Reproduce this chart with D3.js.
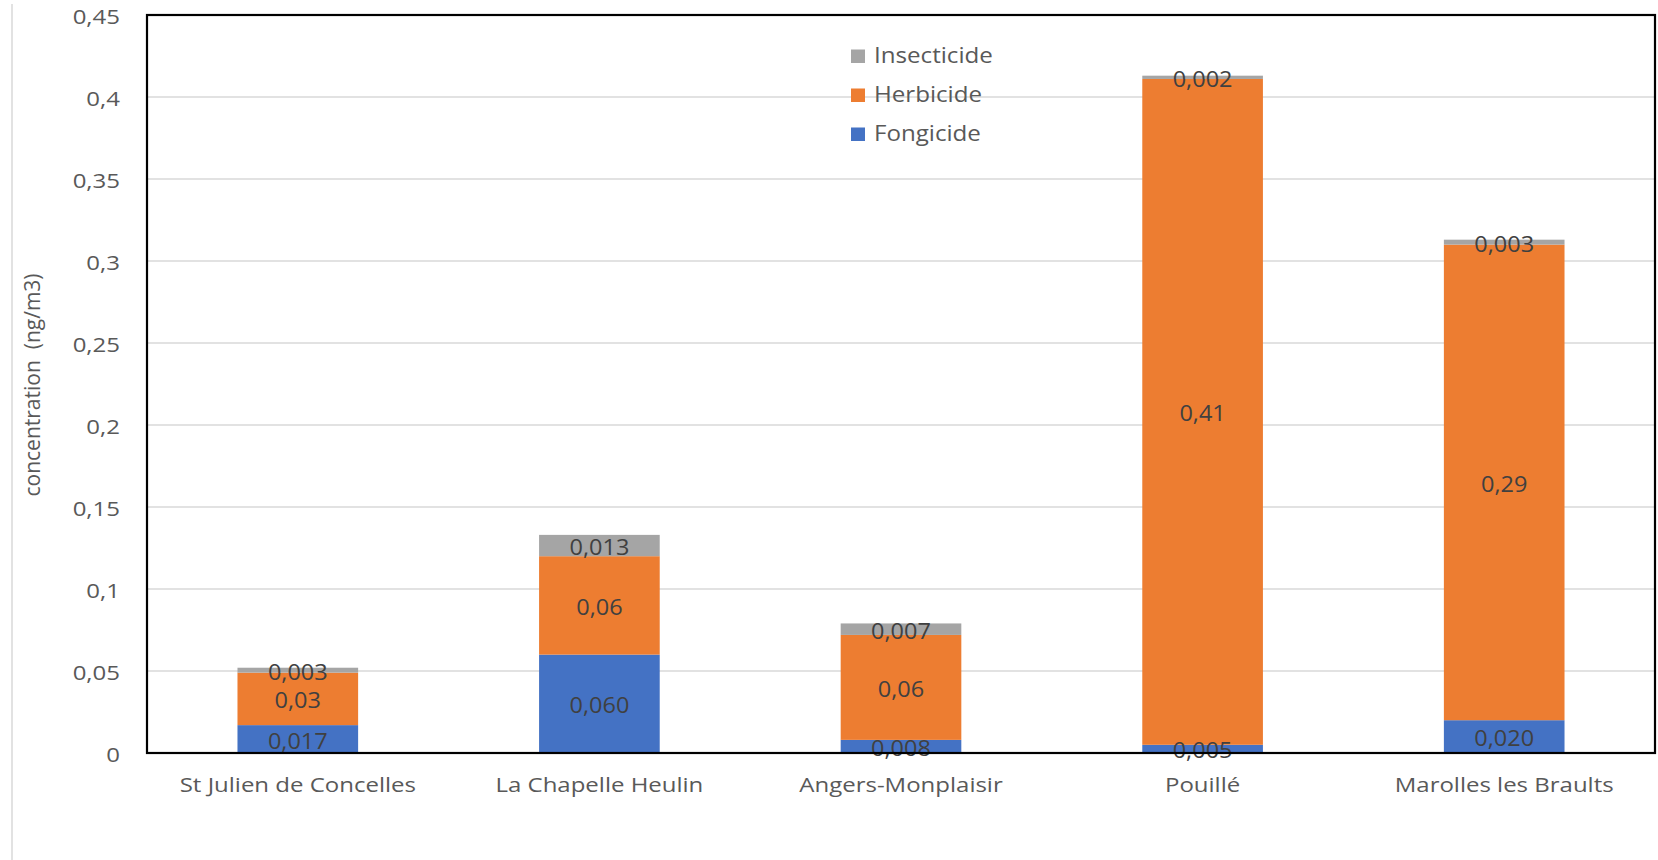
<!DOCTYPE html>
<html>
<head>
<meta charset="utf-8">
<script src="https://cdn.jsdelivr.net/npm/d3@7"></script>
<style>
  html, body { margin: 0; padding: 0; background: #ffffff; }
  svg { display: block; font-family: "Open Sans", "Noto Sans", sans-serif; }
  .keep-spaces { white-space: pre; }
</style>
</head>
<body>
<svg id="chart" width="1658" height="860"></svg>
<script>
// Sampling sites (x categories)
const categories = [
  "St Julien de Concelles",
  "La Chapelle Heulin",
  "Angers-Monplaisir",
  "Pouillé",
  "Marolles les Braults"
];

// Concentrations per pesticide family (ng/m3)
const fongicide   = [0.017, 0.060, 0.008, 0.005, 0.020];
const herbicide   = [0.032, 0.060, 0.064, 0.406, 0.290];
const insecticide = [0.003, 0.013, 0.007, 0.002, 0.003];

// Series, bottom to top of each stack
const seriesNames = ["Fongicide", "Herbicide", "Insecticide"];
const seriesColors = ["#4472C4", "#ED7D31", "#A5A5A5"];
const seriesFormats = [".3f", ".2f", ".3f"];

// Value axis ticks
const yTicks = [0, 0.05, 0.1, 0.15, 0.2, 0.25, 0.3, 0.35, 0.4, 0.45];

const yTitle = "concentration  (ng/m3)";

// French number formatting (decimal comma)
const fr = d3.formatLocale({ decimal: ",", thousands: " ", grouping: [3], currency: ["", " €"] });

const svg = d3.select("#chart");
const plot = { left: 147, right: 1655, top: 15, bottom: 753 };

const x = d3.scaleBand()
  .domain(categories)
  .range([plot.left, plot.right])
  .paddingInner(0.6)
  .paddingOuter(0.3);

const y = d3.scaleLinear()
  .domain([0, 0.45])
  .range([plot.bottom, plot.top]);

// Table for the stack layout
const rows = categories.map((c, i) => ({
  site: c,
  Fongicide: fongicide[i],
  Herbicide: herbicide[i],
  Insecticide: insecticide[i]
}));
const stacked = d3.stack().keys(seriesNames)(rows);

// Thin vertical rule along the left edge
svg.append("line")
  .attr("x1", 12).attr("x2", 12)
  .attr("y1", 4).attr("y2", 860)
  .attr("stroke", "#d9d9d9")
  .attr("stroke-width", 1.5);

// Horizontal gridlines
svg.append("g")
  .selectAll("line")
  .data(yTicks.slice(1, -1))
  .join("line")
  .attr("x1", plot.left).attr("x2", plot.right)
  .attr("y1", d => y(d)).attr("y2", d => y(d))
  .attr("stroke", "#d9d9d9")
  .attr("stroke-width", 1.6);

// Stacked bars
const layers = svg.append("g")
  .selectAll("g")
  .data(stacked)
  .join("g")
  .attr("fill", (d, i) => seriesColors[i]);

layers.selectAll("rect")
  .data(d => d)
  .join("rect")
  .attr("x", d => x(d.data.site))
  .attr("width", x.bandwidth())
  .attr("y", d => y(d[1]))
  .attr("height", d => y(d[0]) - y(d[1]));

// Segment value labels, centred in each segment
const labelGroups = svg.append("g")
  .selectAll("g")
  .data(stacked)
  .join("g");

labelGroups.selectAll("text")
  .data((s, i) => s.map(d => ({ d, fmt: fr.format(seriesFormats[i]), key: s.key })))
  .join("text")
  .attr("transform", o => {
    const cx = x(o.d.data.site) + x.bandwidth() / 2;
    const cy = (y(o.d[0]) + y(o.d[1])) / 2;
    return `translate(${cx},${cy}) scale(1.12,1)`;
  })
  .attr("text-anchor", "middle")
  .attr("dy", "0.45em")
  .attr("font-size", 21)
  .attr("fill", "#404040")
  .text(o => o.fmt(o.d.data[o.key]));

// Y axis tick labels
const yAxis = svg.append("g")
  .attr("transform", `translate(${plot.left},0)`)
  .call(d3.axisLeft(y)
    .tickValues(yTicks)
    .tickSize(0)
    .tickPadding(27)
    .tickFormat(fr.format("~g")));
yAxis.select(".domain").remove();
yAxis.selectAll("text")
  .attr("x", null)
  .attr("dy", "0.4em")
  .attr("transform", "translate(-27,0) scale(1.2,1)")
  .attr("font-size", 20)
  .attr("font-family", "Open Sans")
  .attr("fill", "#595959");

// X axis category labels
const xAxis = svg.append("g")
  .attr("transform", `translate(0,${plot.bottom})`)
  .call(d3.axisBottom(x).tickSize(0));
xAxis.select(".domain").remove();
xAxis.selectAll("text")
  .attr("y", null)
  .attr("dy", null)
  .attr("transform", "translate(0,39) scale(1.2,1)")
  .attr("font-size", 20)
  .attr("font-family", "Open Sans")
  .attr("fill", "#595959");

// Plot area frame
svg.append("rect")
  .attr("x", plot.left).attr("y", plot.top)
  .attr("width", plot.right - plot.left)
  .attr("height", plot.bottom - plot.top)
  .attr("fill", "none")
  .attr("stroke", "#000000")
  .attr("stroke-width", 2.2);

// Y axis title
svg.append("text")
  .attr("class", "keep-spaces")
  .attr("transform", "translate(40,385) rotate(-90)")
  .attr("text-anchor", "middle")
  .attr("font-size", 21)
  .attr("fill", "#595959")
  .text(yTitle);

// Legend (top of stack listed first)
const legendItems = seriesNames.map((n, i) => ({ name: n, color: seriesColors[i] })).reverse();
const legend = svg.append("g").attr("transform", "translate(851,63)");
const li = legend.selectAll("g")
  .data(legendItems)
  .join("g")
  .attr("transform", (d, i) => `translate(0,${i * 39})`);
li.append("rect")
  .attr("x", 0).attr("y", -13.5)
  .attr("width", 14).attr("height", 13.5)
  .attr("fill", d => d.color);
li.append("text")
  .attr("transform", "translate(23,0) scale(1.15,1)")
  .attr("font-size", 21)
  .attr("fill", "#595959")
  .text(d => d.name);
</script>
</body>
</html>
